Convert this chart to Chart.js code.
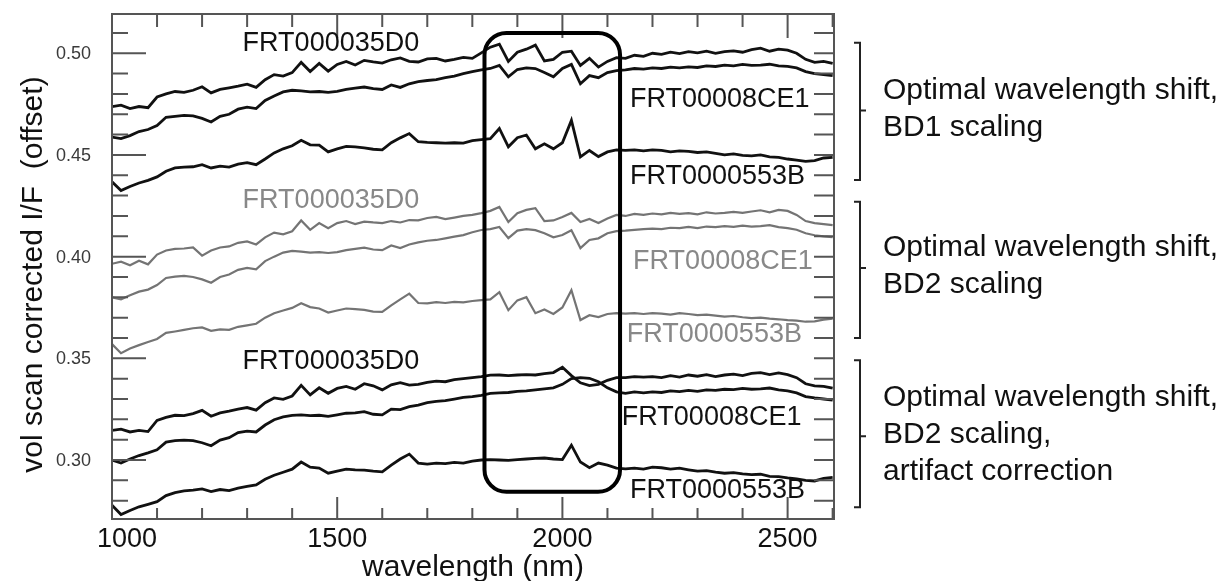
<!DOCTYPE html>
<html>
<head>
<meta charset="utf-8">
<script src="https://cdn.jsdelivr.net/npm/chart.js@4/dist/chart.umd.min.js"></script>
<style>
  body { margin: 0; background: #fff; }
  canvas { display: block; }
</style>
</head>
<body>
<canvas id="myChart" width="1227" height="581"></canvas>
<script>
// wavelength grid (nm)
var wavelength = [
  1000, 1020, 1040, 1060, 1080, 1100, 1120, 1140, 1160, 1180,
  1200, 1220, 1240, 1260, 1280, 1300, 1320, 1340, 1360, 1380,
  1400, 1420, 1440, 1460, 1480, 1500, 1520, 1540, 1560, 1580,
  1600, 1620, 1640, 1660, 1680, 1700, 1720, 1740, 1760, 1780,
  1800, 1820, 1840, 1860, 1880, 1900, 1920, 1940, 1960, 1980,
  2000, 2020, 2040, 2060, 2080, 2100, 2120, 2140, 2160, 2180,
  2200, 2220, 2240, 2260, 2280, 2300, 2320, 2340, 2360, 2380,
  2400, 2420, 2440, 2460, 2480, 2500, 2520, 2540, 2560, 2580,
  2600
];

// optimal shift, BD1 scaling
var bd1_35D0 = [
  0.4737, 0.4745, 0.4728, 0.4738, 0.4732, 0.4785, 0.4800, 0.4812, 0.4808, 0.4818,
  0.4835, 0.4805, 0.4822, 0.4830, 0.4838, 0.4848, 0.4832, 0.4870, 0.4895, 0.4888,
  0.4905, 0.4955, 0.4910, 0.4950, 0.4912, 0.4945, 0.4960, 0.4942, 0.4965, 0.4958,
  0.4952, 0.4968, 0.4977, 0.4960, 0.4957, 0.4972, 0.4975, 0.4962, 0.4970, 0.4980,
  0.4975, 0.5002, 0.5030, 0.5045, 0.4960, 0.5005, 0.5020, 0.5040, 0.4962, 0.4970,
  0.5005, 0.5010, 0.4940, 0.4975, 0.4932, 0.4960, 0.4978, 0.4975, 0.4990, 0.4985,
  0.5000, 0.4995, 0.5005, 0.4998, 0.5008, 0.5002, 0.5010, 0.5000, 0.5008, 0.5012,
  0.5005, 0.5018, 0.5025, 0.5010, 0.5020, 0.5015, 0.5000, 0.4970, 0.4955, 0.4960,
  0.4950
];
var bd1_8CE1 = [
  0.4588, 0.4580, 0.4595, 0.4615, 0.4625, 0.4645, 0.4685, 0.4690, 0.4695, 0.4692,
  0.4680, 0.4662, 0.4690, 0.4700, 0.4725, 0.4735, 0.4728, 0.4768, 0.4790, 0.4810,
  0.4818, 0.4815, 0.4810, 0.4812, 0.4808, 0.4812, 0.4822, 0.4828, 0.4834, 0.4826,
  0.4822, 0.4844, 0.4832, 0.4850, 0.4860, 0.4866, 0.4870, 0.4880, 0.4888, 0.4900,
  0.4910, 0.4918, 0.4925, 0.4940, 0.4884, 0.4920, 0.4928, 0.4925, 0.4905, 0.4884,
  0.4925, 0.4945, 0.4850, 0.4890, 0.4880, 0.4905, 0.4915, 0.4918, 0.4925, 0.4922,
  0.4928, 0.4925, 0.4932, 0.4928, 0.4933, 0.4930, 0.4938, 0.4935, 0.4942, 0.4938,
  0.4945, 0.4940, 0.4942, 0.4946, 0.4938, 0.4935, 0.4928, 0.4910, 0.4900, 0.4895,
  0.4890
];
var bd1_553B = [
  0.4368, 0.4325, 0.4345, 0.4362, 0.4375, 0.4392, 0.4420, 0.4436, 0.4440, 0.4442,
  0.4452, 0.4436, 0.4445, 0.4440, 0.4455, 0.4462, 0.4452, 0.4480, 0.4510, 0.4530,
  0.4545, 0.4572, 0.4550, 0.4548, 0.4515, 0.4530, 0.4542, 0.4540, 0.4535, 0.4528,
  0.4525, 0.4560, 0.4584, 0.4605, 0.4565, 0.4562, 0.4560, 0.4558, 0.4560, 0.4558,
  0.4570, 0.4575, 0.4580, 0.4630, 0.4540, 0.4585, 0.4598, 0.4530, 0.4555, 0.4530,
  0.4560, 0.4670, 0.4490, 0.4522, 0.4492, 0.4515, 0.4525, 0.4522, 0.4525, 0.4520,
  0.4525, 0.4522, 0.4515, 0.4520, 0.4518, 0.4512, 0.4515, 0.4508, 0.4500, 0.4505,
  0.4498, 0.4495, 0.4500, 0.4490, 0.4488, 0.4480, 0.4475, 0.4468, 0.4472, 0.4485,
  0.4488
];

// optimal shift, BD2 scaling (grey)
var bd2_35D0 = [
  0.3965, 0.3975, 0.3958, 0.3980, 0.3962, 0.4010, 0.4030, 0.4038, 0.4040, 0.4045,
  0.4005, 0.4030, 0.4045, 0.4050, 0.4068, 0.4075, 0.4060, 0.4095, 0.4118, 0.4110,
  0.4125, 0.4178, 0.4132, 0.4165, 0.4140, 0.4165, 0.4175, 0.4160, 0.4172, 0.4168,
  0.4165, 0.4175, 0.4168, 0.4180, 0.4178, 0.4190, 0.4195, 0.4185, 0.4192, 0.4200,
  0.4205, 0.4214, 0.4225, 0.4244, 0.4170, 0.4214, 0.4230, 0.4238, 0.4175, 0.4178,
  0.4195, 0.4215, 0.4170, 0.4185, 0.4165, 0.4188, 0.4205, 0.4200, 0.4210, 0.4205,
  0.4212, 0.4208, 0.4215, 0.4210, 0.4214, 0.4208, 0.4218, 0.4212, 0.4215, 0.4220,
  0.4215, 0.4222, 0.4228, 0.4218, 0.4230, 0.4225, 0.4205, 0.4175, 0.4165, 0.4160,
  0.4155
];
var bd2_8CE1 = [
  0.3800, 0.3790, 0.3810, 0.3828, 0.3838, 0.3860, 0.3895, 0.3902, 0.3905, 0.3900,
  0.3888, 0.3872, 0.3900, 0.3912, 0.3935, 0.3945, 0.3938, 0.3978, 0.4000, 0.4020,
  0.4028, 0.4025, 0.4020, 0.4022, 0.4018, 0.4022, 0.4032, 0.4038, 0.4044, 0.4035,
  0.4032, 0.4055, 0.4042, 0.4060, 0.4070, 0.4078, 0.4082, 0.4090, 0.4098, 0.4106,
  0.4120, 0.4131, 0.4135, 0.4146, 0.4091, 0.4128, 0.4135, 0.4130, 0.4115, 0.4095,
  0.4106, 0.4130, 0.4042, 0.4082, 0.4090, 0.4115, 0.4125, 0.4128, 0.4132, 0.4135,
  0.4138, 0.4135, 0.4142, 0.4140, 0.4146, 0.4140, 0.4148, 0.4145, 0.4150, 0.4146,
  0.4152, 0.4148, 0.4150, 0.4155, 0.4145, 0.4140, 0.4132, 0.4115, 0.4105, 0.4100,
  0.4096
];
var bd2_553B = [
  0.3570, 0.3525, 0.3548, 0.3565, 0.3580, 0.3595, 0.3625, 0.3632, 0.3640, 0.3648,
  0.3652, 0.3635, 0.3642, 0.3640, 0.3655, 0.3662, 0.3670, 0.3700, 0.3722, 0.3735,
  0.3748, 0.3771, 0.3752, 0.3745, 0.3725, 0.3735, 0.3745, 0.3742, 0.3738, 0.3730,
  0.3728, 0.3760, 0.3790, 0.3818, 0.3772, 0.3770, 0.3776, 0.3772, 0.3778, 0.3775,
  0.3782, 0.3786, 0.3790, 0.3825, 0.3737, 0.3785, 0.3801, 0.3722, 0.3740, 0.3718,
  0.3750, 0.3835, 0.3688, 0.3712, 0.3703, 0.3718, 0.3722, 0.3720, 0.3722, 0.3718,
  0.3722, 0.3720, 0.3715, 0.3722, 0.3718, 0.3712, 0.3715, 0.3710, 0.3705, 0.3708,
  0.3702, 0.3698, 0.3700, 0.3695, 0.3692, 0.3688, 0.3685, 0.3680, 0.3682, 0.3690,
  0.3695
];

// optimal shift, BD2 scaling, artifact correction
var art_35D0 = [
  0.3146, 0.3152, 0.3138, 0.3146, 0.3140, 0.3195, 0.3210, 0.3220, 0.3218, 0.3228,
  0.3244, 0.3215, 0.3232, 0.3240, 0.3250, 0.3258, 0.3245, 0.3282, 0.3305, 0.3298,
  0.3315, 0.3367, 0.3320, 0.3355, 0.3328, 0.3352, 0.3362, 0.3348, 0.3375, 0.3365,
  0.3345, 0.3370, 0.3380, 0.3368, 0.3372, 0.3382, 0.3388, 0.3385, 0.3395, 0.3400,
  0.3405, 0.3410, 0.3417, 0.3418, 0.3415, 0.3418, 0.3420, 0.3418, 0.3425, 0.3430,
  0.3456, 0.3415, 0.3380, 0.3366, 0.3372, 0.3392, 0.3405, 0.3405, 0.3410, 0.3408,
  0.3410, 0.3405, 0.3415, 0.3408, 0.3418, 0.3412, 0.3420, 0.3410, 0.3418, 0.3422,
  0.3415, 0.3426, 0.3430, 0.3420, 0.3428, 0.3420, 0.3405, 0.3375, 0.3365, 0.3362,
  0.3353
];
var art_8CE1 = [
  0.3000, 0.2985, 0.3005, 0.3022, 0.3035, 0.3050, 0.3088, 0.3095, 0.3098, 0.3095,
  0.3085, 0.3070, 0.3098, 0.3110, 0.3135, 0.3142, 0.3138, 0.3172, 0.3198, 0.3212,
  0.3220, 0.3222, 0.3218, 0.3220, 0.3215, 0.3222, 0.3230, 0.3232, 0.3238, 0.3225,
  0.3222, 0.3250, 0.3248, 0.3262, 0.3270, 0.3282, 0.3288, 0.3292, 0.3300, 0.3308,
  0.3312, 0.3318, 0.3328, 0.3330, 0.3332, 0.3338, 0.3340, 0.3345, 0.3350, 0.3355,
  0.3372, 0.3400, 0.3405, 0.3402, 0.3385, 0.3355, 0.3335, 0.3328, 0.3335, 0.3330,
  0.3335, 0.3332, 0.3340, 0.3336, 0.3342, 0.3338, 0.3345, 0.3342, 0.3348, 0.3346,
  0.3352, 0.3348, 0.3350, 0.3354, 0.3345, 0.3340, 0.3330, 0.3312, 0.3305, 0.3300,
  0.3294
];
var art_553B = [
  0.2778, 0.2732, 0.2752, 0.2770, 0.2782, 0.2795, 0.2825, 0.2840, 0.2848, 0.2852,
  0.2858, 0.2845, 0.2855, 0.2850, 0.2862, 0.2870, 0.2878, 0.2905, 0.2925, 0.2940,
  0.2955, 0.2990, 0.2965, 0.2960, 0.2935, 0.2945, 0.2955, 0.2952, 0.2950, 0.2945,
  0.2942, 0.2975, 0.3005, 0.3029, 0.2985, 0.2980, 0.2985, 0.2982, 0.2988, 0.2985,
  0.2995, 0.3000, 0.3002, 0.3000, 0.2998, 0.3002, 0.3005, 0.3008, 0.3010, 0.3005,
  0.3002, 0.3073, 0.2990, 0.2962, 0.2985, 0.2975, 0.2960, 0.2956, 0.2960, 0.2955,
  0.2965, 0.2962, 0.2955, 0.2960, 0.2952, 0.2945, 0.2948, 0.2940, 0.2935, 0.2938,
  0.2932, 0.2928, 0.2930, 0.2920, 0.2918, 0.2912, 0.2907, 0.2900, 0.2897, 0.2910,
  0.2915
];

var xTickLabels = [1000, 1500, 2000, 2500];
var yTickLabels = [0.30, 0.35, 0.40, 0.45, 0.50];

// highlighted absorption window (nm, I/F)
var boxWave = [1827, 2128];
var boxIF = [0.2844, 0.5100];

var curveNames = ['FRT000035D0', 'FRT00008CE1', 'FRT0000553B'];

// label anchors (wavelength, I/F) for the curve names
var nameWave = [1290, 2150, 2150, 1290, 2157, 2143, 1290, 2132, 2150];
var nameIF = [0.5046, 0.4770, 0.4396, 0.4274, 0.3974, 0.3615, 0.3482, 0.3207, 0.2848];

var groupNotes = [
  ['Optimal wavelength shift,', 'BD1 scaling'],
  ['Optimal wavelength shift,', 'BD2 scaling'],
  ['Optimal wavelength shift,', 'BD2 scaling,', 'artifact correction']
];
// bracket extents in I/F: top, middle, bottom
var bracketTop = [0.5052, 0.4270, 0.3491];
var bracketMid = [0.4718, 0.3944, 0.3117];
var bracketBottom = [0.4377, 0.3600, 0.2768];

const BLACK = '#111111';
const GREY = '#747474';
const FONT = '"Liberation Sans", Arial, sans-serif';

var series = [
  { d: bd1_35D0, c: BLACK }, { d: bd1_8CE1, c: BLACK }, { d: bd1_553B, c: BLACK },
  { d: bd2_35D0, c: GREY }, { d: bd2_8CE1, c: GREY }, { d: bd2_553B, c: GREY },
  { d: art_35D0, c: BLACK }, { d: art_8CE1, c: BLACK }, { d: art_553B, c: BLACK }
];

function text(c, str, x, y, size, color, align, base) {
  c.font = size + 'px ' + FONT;
  c.fillStyle = color;
  c.textAlign = align || 'left';
  c.textBaseline = base || 'alphabetic';
  c.fillText(str, x, y);
}

const decor = {
  id: 'decor',
  afterDatasetsDraw(chart) {
    const c = chart.ctx;
    const a = chart.chartArea;
    const xs = chart.scales.x;
    const ys = chart.scales.y;
    c.save();

    // frame
    c.strokeStyle = '#555';
    c.lineWidth = 2;
    c.strokeRect(a.left, a.top, a.right - a.left, a.bottom - a.top);

    // inward ticks
    c.beginPath();
    for (let nm = 1000; nm <= 2600; nm += 100) {
      let px = xs.getPixelForValue(nm);
      let major = nm % 500 === 0;
      c.moveTo(px, a.bottom);
      c.lineTo(px, a.bottom - (major ? 22 : 11));
      c.moveTo(px, a.top);
      c.lineTo(px, a.top + (major ? 24 : 13));
    }
    for (let k = 28; k <= 51; k++) {
      let py = ys.getPixelForValue(k / 100);
      c.moveTo(a.left, py);
      c.lineTo(a.left + (k % 5 === 0 ? 34 : 16), py);
      c.moveTo(a.right, py);
      c.lineTo(a.right - 20, py);
    }
    c.stroke();

    // tick labels
    xTickLabels.forEach(function (v, i) {
      let px = xs.getPixelForValue(v) + (i === 0 ? 15 : 0);
      text(c, String(v), px, a.bottom + 28, 27, BLACK, 'center', 'alphabetic');
    });
    yTickLabels.forEach(function (v) {
      text(c, v.toFixed(2), a.left - 21, ys.getPixelForValue(v) + 1, 18, '#3a3a3a', 'right', 'middle');
    });

    // axis titles
    text(c, 'wavelength (nm)', (a.left + a.right) / 2, 576, 30, BLACK, 'center');
    c.save();
    c.translate(42, (a.top + a.bottom) / 2 + 8);
    c.rotate(-Math.PI / 2);
    text(c, 'vol scan corrected I/F  (offset)', 0, 0, 30, BLACK, 'center');
    c.restore();

    // rounded window
    let bx0 = xs.getPixelForValue(boxWave[0]);
    let bx1 = xs.getPixelForValue(boxWave[1]);
    let by0 = ys.getPixelForValue(boxIF[1]);
    let by1 = ys.getPixelForValue(boxIF[0]);
    let r = 22;
    c.beginPath();
    c.moveTo(bx0 + r, by0);
    c.arcTo(bx1, by0, bx1, by1, r);
    c.arcTo(bx1, by1, bx0, by1, r);
    c.arcTo(bx0, by1, bx0, by0, r);
    c.arcTo(bx0, by0, bx1, by0, r);
    c.closePath();
    c.strokeStyle = '#000';
    c.lineWidth = 4;
    c.stroke();

    // curve names
    for (let i = 0; i < 9; i++) {
      let col = (i >= 3 && i < 6) ? '#888' : BLACK;
      text(c, curveNames[i % 3], xs.getPixelForValue(nameWave[i]), ys.getPixelForValue(nameIF[i]), 27, col, 'left', 'middle');
    }

    // brackets and notes
    c.strokeStyle = '#222';
    c.lineWidth = 2;
    for (let g = 0; g < 3; g++) {
      let t = ys.getPixelForValue(bracketTop[g]);
      let m = ys.getPixelForValue(bracketMid[g]);
      let b = ys.getPixelForValue(bracketBottom[g]);
      let bx = a.right + 26;
      c.beginPath();
      c.moveTo(bx - 6, t);
      c.lineTo(bx, t);
      c.lineTo(bx, b);
      c.lineTo(bx - 6, b);
      c.moveTo(bx, m);
      c.lineTo(bx + 6, m);
      c.stroke();
      let lines = groupNotes[g];
      let y0 = m - lines.length * 37 / 2 + 25;
      lines.forEach(function (s, j) {
        text(c, s, bx + 23, y0 + j * 37, 30, BLACK, 'left');
      });
    }
    c.restore();
  }
};

const ctx = document.getElementById('myChart');

new Chart(ctx, {
  type: 'line',
  data: {
    datasets: series.map(function (s) {
      return {
        data: wavelength.map(function (w, i) { return { x: w, y: s.d[i] }; }),
        borderColor: s.c,
        borderWidth: s.c === GREY ? 2.2 : 2.8,
        pointRadius: 0,
        tension: 0,
        fill: false
      };
    })
  },
  options: {
    responsive: false,
    animation: false,
    layout: { padding: { left: 112, right: 393, top: 14, bottom: 62 } },
    plugins: { legend: { display: false }, tooltip: { enabled: false } },
    scales: {
      x: { type: 'linear', min: 1000, max: 2603, display: false },
      y: { type: 'linear', min: 0.271, max: 0.5193, display: false }
    }
  },
  plugins: [decor]
});
</script>
</body>
</html>
